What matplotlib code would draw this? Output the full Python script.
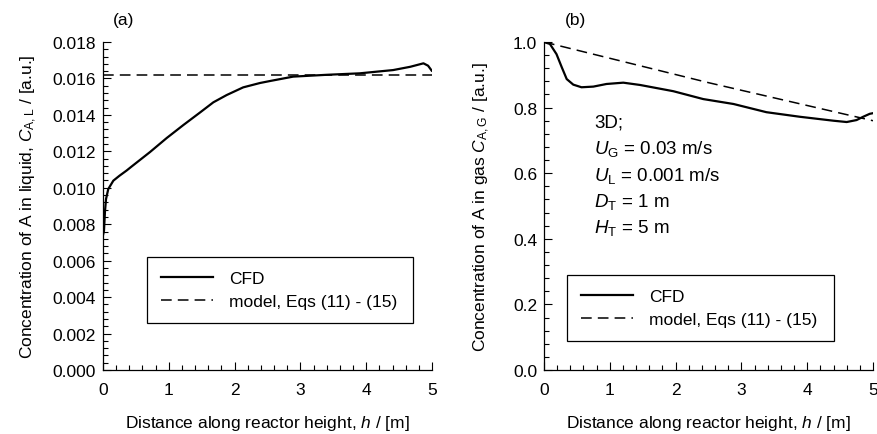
import numpy as np
import matplotlib
matplotlib.use("Agg")
import matplotlib.pyplot as plt
from matplotlib.ticker import MultipleLocator, FormatStrFormatter

plt.rcParams['font.family'] = ['Liberation Sans', 'DejaVu Sans']
plt.rcParams['mathtext.fontset'] = 'custom'
plt.rcParams['mathtext.rm'] = 'Liberation Sans'
plt.rcParams['mathtext.it'] = 'Liberation Sans:italic'

# panel (a): liquid concentration
h_liq = [0.0, 0.015, 0.03, 0.046, 0.08, 0.157, 0.25, 0.36, 0.436, 0.714,
         0.968, 1.22, 1.474, 1.677, 1.88, 2.13, 2.386, 2.54, 2.89, 3.4,
         3.9, 4.41, 4.67, 4.87, 4.94, 4.995]
c_liq_cfd = [0.0074, 0.00764, 0.0087, 0.00938, 0.00993, 0.01039, 0.01066,
             0.01095, 0.01117, 0.01196, 0.01273, 0.01344, 0.01413, 0.01469,
             0.01509, 0.01551, 0.01575, 0.01586, 0.0161, 0.0162, 0.01628,
             0.01646, 0.01664, 0.01683, 0.0167, 0.01643]
h_liq_model = [0.0, 5.0]
c_liq_model = [0.0162, 0.0162]

# panel (b): gas concentration
h_gas = [0.0, 0.09, 0.19, 0.27, 0.345, 0.445, 0.57, 0.75, 0.95, 1.205,
         1.46, 1.965, 2.42, 2.88, 3.38, 3.89, 4.40, 4.60, 4.75, 4.85, 4.95, 5.0]
c_gas_cfd = [1.0, 0.994, 0.963, 0.923, 0.887, 0.870, 0.862, 0.864, 0.872,
             0.876, 0.869, 0.850, 0.826, 0.811, 0.786, 0.772, 0.760, 0.756,
             0.762, 0.772, 0.781, 0.783]
h_gas_model = [0.0, 2.5, 5.0]
c_gas_model = [1.0, 0.876, 0.76]

labels = ['CFD', 'model, Eqs (11) - (15)']
W, H = 877, 435


def style_axes(ax):
    for s in ['top', 'right']:
        ax.spines[s].set_visible(False)
    for s in ['left', 'bottom']:
        ax.spines[s].set_linewidth(0.9)
    ax.tick_params(which='both', direction='in', labelsize=12.5, width=0.8)
    ax.tick_params(which='major', length=6, pad=5)
    ax.tick_params(which='minor', length=3.5)
    ax.tick_params(axis='x', which='major', pad=9)
    ax.xaxis.set_major_locator(MultipleLocator(1))
    ax.xaxis.set_minor_locator(MultipleLocator(0.2))
    ax.set_xlim(0, 5)
    ax.set_xlabel('Distance along reactor height, $\\it{h}$ / [m]', fontsize=12.5, labelpad=11)


def add_legend(ax, box):
    leg = ax.legend(loc='lower left', bbox_to_anchor=box, mode='expand',
                    fontsize=12.5, frameon=True, fancybox=False, edgecolor='black',
                    framealpha=1, handlelength=3.0, handletextpad=0.9,
                    labelspacing=0.45, borderpad=0.8, borderaxespad=0)
    leg.get_frame().set_linewidth(0.9)


fig = plt.figure(figsize=(W / 100, H / 100), dpi=100)
ax1 = fig.add_axes([103 / W, 64 / H, 329 / W, 328 / H])
ax2 = fig.add_axes([544 / W, 64 / H, 329 / W, 328 / H])

ax1.plot(h_liq, c_liq_cfd, color='black', lw=1.6, label=labels[0])
ax1.plot(h_liq_model, c_liq_model, color='black', lw=1.1, dashes=(7, 4), label=labels[1])
style_axes(ax1)
ax1.set_ylim(0, 0.018)
ax1.yaxis.set_major_locator(MultipleLocator(0.002))
ax1.yaxis.set_minor_locator(MultipleLocator(0.0004))
ax1.yaxis.set_major_formatter(FormatStrFormatter('%.3f'))
ax1.set_ylabel('Concentration of A in liquid, $\\it{C}_\\mathrm{A,L}$ / [a.u.]', fontsize=12.5, labelpad=10)
ax1.text(0.03, 1.07, '(a)', transform=ax1.transAxes, fontsize=12.5, ha='left', va='center')
add_legend(ax1, (0.134, 0.143, 0.808, 0.207))

ax2.plot(h_gas, c_gas_cfd, color='black', lw=1.6, label=labels[0])
ax2.plot(h_gas_model, c_gas_model, color='black', lw=1.1, dashes=(7, 4), label=labels[1])
style_axes(ax2)
ax2.set_ylim(0, 1.0)
ax2.yaxis.set_major_locator(MultipleLocator(0.2))
ax2.yaxis.set_minor_locator(MultipleLocator(0.04))
ax2.yaxis.set_major_formatter(FormatStrFormatter('%.1f'))
ax2.set_ylabel('Concentration of A in gas $\\it{C}_\\mathrm{A,G}$ / [a.u.]', fontsize=12.5, labelpad=15)
ax2.text(0.064, 1.07, '(b)', transform=ax2.transAxes, fontsize=12.5, ha='left', va='center')
add_legend(ax2, (0.07, 0.088, 0.811, 0.211))

info = ['3D;',
        '$\\it{U}_\\mathrm{G}$ = 0.03 m/s',
        '$\\it{U}_\\mathrm{L}$ = 0.001 m/s',
        '$\\it{D}_\\mathrm{T}$ = 1 m',
        '$\\it{H}_\\mathrm{T}$ = 5 m']
for i, line in enumerate(info):
    ax2.text(0.152, 0.756 - i * 0.08, line, transform=ax2.transAxes, fontsize=13.5,
             ha='left', va='center')

fig.savefig('out.png', dpi=100)
